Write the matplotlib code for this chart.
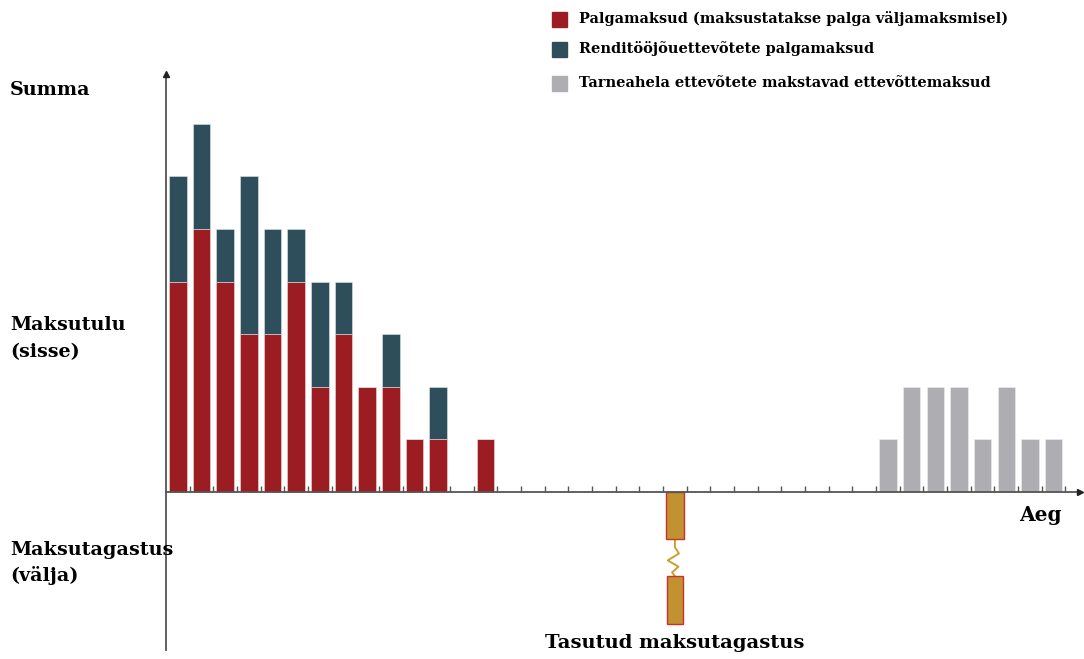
import matplotlib.pyplot as plt
import numpy as np

# slot index of each bar along the time axis
slots_main = [0, 1, 2, 3, 4, 5, 6, 7, 8, 9, 10, 11, 13]
palgamaksud = [4, 5, 4, 3, 3, 4, 2, 3, 2, 2, 1, 1, 1]
rendi = [2, 2, 1, 3, 2, 1, 2, 1, 0, 1, 0, 1, 0]
slots_gray = [30, 31, 32, 33, 34, 35, 36, 37]
tarneahel = [1, 2, 2, 2, 1, 2, 1, 1]
refund_slot = 21
refund_value = 2.5
n_slots = 38

legend_labels = ['Palgamaksud (maksustatakse palga väljamaksmisel)',
                 'Renditööjõuettevõtete palgamaksud',
                 'Tarneahela ettevõtete makstavad ettevõttemaksud']

RED = '#9b1d21'
TEAL = '#2f4e5c'
GRAY = '#aeaeb2'
GOLD = '#c1922f'
AXC = '#555555'

W, H = 1084, 659
fig = plt.figure(figsize=(W / 100, H / 100), dpi=100)
ax = fig.add_axes([0, 0, 1, 1])
ux, uy = 23.67, 52.6
x0, y0 = 166, 492
ax.set_xlim(-x0 / ux, (W - x0) / ux)
ax.set_ylim(-(H - y0) / uy, y0 / uy)

plt.rcParams['font.family'] = 'DejaVu Serif'

xm = np.array(slots_main) + 0.5
bw = 0.74
ax.bar(xm, palgamaksud, width=bw, color=RED, edgecolor='#f3dada', linewidth=0.4, zorder=2)
ax.bar(xm, rendi, width=bw, bottom=palgamaksud, color=TEAL, edgecolor='#dfe6ea', linewidth=0.4, zorder=2)
ax.bar(np.array(slots_gray) + 0.5, tarneahel, width=bw, color=GRAY, edgecolor='#eeeeee', linewidth=0.4, zorder=2)

# refund bar drawn with a break
brk_top, brk_bot = 0.9, 1.6
xr = refund_slot + 0.5
ax.bar(xr, -brk_top, width=bw, color=GOLD, edgecolor='#c8322c', linewidth=1, zorder=2)
ax.bar(xr, -(refund_value - brk_bot), bottom=-brk_bot, width=bw * 0.95, color=GOLD,
       edgecolor='#c8322c', linewidth=1, zorder=2)
zx = xr + np.array([0, 0, 0.17, -0.3, 0.15, -0.12, 0])
zy = -(brk_top + np.array([0, 0.15, 0.27, 0.4, 0.52, 0.63, 0.7]))
ax.plot(zx, zy, color='#c9a032', lw=1.4, zorder=1)

# axes
for s in ['top', 'right']:
    ax.spines[s].set_visible(False)
ax.spines['left'].set_position(('data', 0))
ax.spines['bottom'].set_position(('data', 0))
ax.spines['left'].set_bounds(-3.0, 7.95)
ax.spines['bottom'].set_bounds(0, 38.6)
ax.spines['left'].set_color(AXC)
ax.spines['bottom'].set_color(AXC)
ax.spines['left'].set_linewidth(1.3)
ax.spines['bottom'].set_linewidth(1.3)
ax.plot([0], [7.95], marker='^', color='#222222', ms=4, clip_on=False, zorder=3)
ax.plot([38.6], [0], marker='>', color='#222222', ms=4, clip_on=False, zorder=3)
ax.set_xticks(np.arange(1, n_slots + 1))
ax.set_yticks([])
ax.tick_params(axis='x', direction='in', length=4, width=1, color=AXC, labelbottom=False)

def ftext(x, y, s, **kw):
    fig.text(x / W, 1 - y / H, s, fontweight='bold', **kw)

ftext(10, 90, 'Summa', fontsize=13.8, va='center')
ftext(10, 339, 'Maksutulu\n(sisse)', fontsize=13.8, va='center', linespacing=1.65)
ftext(10, 563, 'Maksutagastus\n(välja)', fontsize=13.8, va='center', linespacing=1.5)
ftext(1062, 515, 'Aeg', fontsize=14.5, va='center', ha='right')
ftext(675, 643, 'Tasutud maksutagastus', fontsize=14, va='center', ha='center')

# legend
leg_colors = [RED, TEAL, GRAY]
leg_y = [19, 49, 83]
for c, yy, lab in zip(leg_colors, leg_y, legend_labels):
    fig.patches.append(plt.Rectangle((552 / W, 1 - (yy + 7.5) / H), 15 / W, 15 / H,
                                     transform=fig.transFigure, color=c, figure=fig))
    ftext(579, yy, lab, fontsize=10.45, va='center')

fig.savefig('out.png', dpi=100)
